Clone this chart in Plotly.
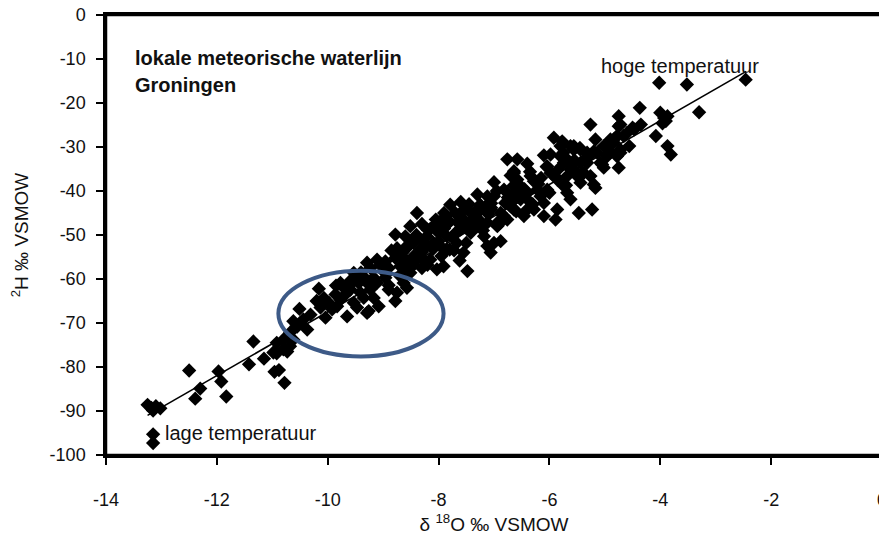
import plotly.graph_objects as go

# ---- data (δ18O, δ2H in ‰ VSMOW) ----
low_d18o = [-13.25, -13.18, -13.10, -13.02, -13.15, -13.15, -13.15, -12.50, -12.30, -12.39,
            -11.97, -11.92, -11.83, -11.42, -11.34, -11.15, -10.98, -10.92, -10.96, -10.88,
            -10.78, -10.80, -10.73, -10.68, -10.62, -10.55, -10.71]
low_d2h = [-88.6, -89.3, -88.9, -89.4, -89.9, -95.3, -97.3, -80.8, -84.9, -87.2,
           -81.0, -83.3, -86.7, -79.4, -74.2, -78.1, -76.7, -76.9, -81.1, -80.7,
           -83.6, -76.0, -76.5, -75.3, -73.8, -70.8, -73.0]

ell_d18o = [-10.16, -10.51, -10.20, -10.07, -9.98, -10.13, -9.92, -9.83, -9.74, -9.68,
            -9.59, -9.53, -9.47, -9.35, -9.26, -9.08, -9.23, -9.11, -8.90, -8.78,
            -8.96, -8.69, -8.57, -9.44, -9.86, -9.65, -10.04, -10.31, -10.44, -10.56,
            -10.37, -10.68, -10.80, -10.92, -9.53, -9.29, -9.11, -9.23, -8.78, -8.57,
            -8.51, -8.39, -8.21, -8.15, -8.03, -9.77, -9.41, -9.17, -8.75, -9.29,
            -10.62, -9.77, -9.65, -9.53, -9.41, -9.29, -9.17, -8.63, -8.51, -8.45]
ell_d2h = [-62.2, -66.8, -65.0, -64.3, -65.4, -66.5, -66.9, -66.2, -61.6, -63.5,
           -62.4, -65.4, -66.5, -64.3, -67.3, -66.2, -62.4, -60.9, -62.4, -65.0,
           -59.7, -59.4, -62.0, -60.9, -63.5, -68.5, -68.8, -68.1, -69.2, -70.7,
           -71.5, -72.2, -73.8, -74.5, -58.6, -56.3, -55.6, -57.5, -55.2, -52.5,
           -56.7, -54.8, -52.5, -55.6, -57.8, -64.7, -63.1, -64.3, -63.1, -67.7,
           -69.6, -60.9, -62.4, -60.5, -59.4, -60.9, -59.7, -60.9, -58.6, -56.3]

mid_d18o = [-8.78, -8.51, -8.39, -8.60, -8.57, -8.96, -7.79, -7.70, -7.48, -7.24,
            -7.12, -8.09, -7.97, -8.21, -8.09, -8.33, -8.45, -7.91, -7.85, -7.67,
            -7.55, -7.48, -7.61, -7.42, -7.30, -7.18, -7.12, -7.00, -6.88, -7.06,
            -6.94, -6.82, -6.70, -6.64, -6.58, -6.64, -6.52, -6.40, -6.76, -6.58,
            -7.55, -7.85, -7.97, -8.27, -8.69,
            -8.40, -8.30, -8.20, -8.00, -7.90, -7.75, -7.65, -7.50, -7.38, -7.35,
            -7.25, -7.15, -7.60, -7.88, -8.50, -8.65, -8.85, -8.90, -9.00, -8.62,
            -8.45, -8.30, -8.10, -7.95, -7.72, -7.62, -8.05, -7.80, -7.45, -7.05,
            -9.05, -9.40, -9.60, -9.85, -9.35]
mid_d2h = [-49.9, -48.0, -45.0, -50.3, -52.9, -56.0, -43.1, -45.0, -44.2, -44.2,
           -41.2, -48.0, -47.2, -50.3, -51.8, -53.3, -54.8, -57.1, -53.3, -51.8,
           -54.0, -58.2, -48.8, -49.5, -48.0, -50.3, -52.5, -51.8, -51.4, -54.0,
           -47.2, -45.7, -43.5, -40.4, -37.4, -35.9, -41.9, -44.2, -32.8, -32.8,
           -46.5, -50.3, -52.5, -55.6, -57.1,
           -50.0, -51.2, -48.8, -49.5, -48.5, -50.5, -47.2, -47.8, -46.2, -44.8,
           -46.8, -43.5, -46.2, -45.8, -51.5, -54.0, -53.5, -57.5, -58.2, -58.0,
           -56.8, -57.5, -53.2, -54.8, -53.5, -55.8, -46.5, -47.0, -43.0, -42.8,
           -56.8, -58.5, -60.5, -61.5, -59.5]

core_d18o = [-8.75, -8.45, -8.15, -7.85, -7.55, -7.25, -6.95, -6.65, -6.35, -6.05,
             -5.75, -5.45,
             -8.60, -8.30, -8.00, -7.70, -7.40, -7.10, -6.80, -6.50, -6.20, -5.90,
             -5.60, -5.30,
             -8.90, -8.20, -7.80, -7.50, -7.20, -6.90, -6.60, -6.30, -6.00, -5.70,
             -5.40,
             -8.30, -7.90, -7.60, -7.30, -7.00, -6.70, -6.40, -6.10, -5.80,
             -7.35, -7.05, -6.75, -6.45, -6.15, -5.85, -5.55]
core_d2h = [-53.0, -51.8, -48.6, -47.5, -44.3, -43.1, -40.0, -38.8, -35.6, -34.5,
            -31.3, -30.2,
            -55.6, -53.9, -51.4, -49.6, -47.0, -45.3, -42.7, -40.9, -38.4, -36.6,
            -34.0, -32.3,
            -61.4, -56.8, -53.3, -51.8, -49.0, -47.4, -44.6, -43.0, -40.4, -38.7,
            -36.0,
            -47.5, -45.0, -42.5, -40.8, -38.0, -36.5, -33.8, -31.9, -29.8,
            -45.6, -43.8, -41.5, -39.6, -37.0, -35.2, -33.0]

upp_d18o = [-5.92, -5.77, -5.62, -5.56, -5.26, -5.17, -4.75, -4.75, -5.98, -5.80,
            -5.74, -5.44, -5.32, -5.08, -4.96, -4.84, -4.72, -4.66, -4.75, -5.17,
            -5.23, -5.47, -5.86, -5.89, -6.10, -6.64, -6.34, -6.28, -6.04, -5.98,
            -5.62, -5.50, -5.44, -5.74, -5.68, -6.04, -6.16, -6.10, -6.52, -6.40,
            -6.58, -6.70, -6.82, -7.00, -7.06, -6.88, -6.76, -6.94, -7.12, -6.64,
            -6.46, -6.28, -6.40, -6.22, -5.86, -5.68, -5.32, -5.14, -4.96, -5.02,
            -5.26, -5.62]
upp_d2h = [-27.9, -28.7, -29.8, -30.6, -24.9, -28.3, -23.0, -25.3, -31.7, -32.1,
           -33.6, -30.6, -31.3, -33.6, -29.8, -28.3, -31.3, -27.5, -34.7, -39.3,
           -44.2, -45.0, -44.2, -46.5, -45.7, -35.5, -36.6, -37.8, -34.4, -35.9,
           -35.1, -36.6, -38.1, -38.9, -40.4, -39.7, -41.2, -42.7, -38.9, -40.4,
           -41.2, -42.7, -39.7, -41.2, -44.2, -45.0, -46.5, -48.0, -47.2, -44.2,
           -45.7, -44.2, -41.9, -39.7, -37.4, -32.8, -33.6, -31.3, -32.1, -34.7,
           -36.6, -41.9]

top_d18o = [-4.02, -3.52, -3.30, -4.37, -4.72, -4.00, -3.93, -3.87, -3.90, -4.35,
            -4.08, -4.56, -3.87, -3.81, -5.05, -2.46, -3.96, -4.47, -4.60, -4.90,
            -4.84, -4.78, -4.50, -4.72, -4.78, -4.90, -5.02, -5.20, -5.32, -5.44,
            -5.56, -5.68, -5.38, -5.20, -5.56]
top_d2h = [-15.4, -15.8, -22.1, -21.1, -24.9, -22.2, -23.4, -23.0, -24.1, -24.9,
           -27.5, -29.8, -29.8, -31.7, -34.0, -14.7, -24.6, -26.0, -26.8, -28.3,
           -29.0, -27.5, -25.6, -30.6, -32.1, -31.3, -29.8, -31.0, -32.2, -33.6,
           -35.1, -36.6, -35.9, -38.5, -29.8]

# local meteoric water line (end points as read)
lmwl_d18o = [-13.25, -2.45]
lmwl_d2h = [-91.0, -12.8]

x_ticks = [-14, -12, -10, -8, -6, -4, -2, 0]
y_ticks = [0, -10, -20, -30, -40, -50, -60, -70, -80, -90, -100]

d18o = low_d18o + ell_d18o + mid_d18o + core_d18o + upp_d18o + top_d18o
d2h = low_d2h + ell_d2h + mid_d2h + core_d2h + upp_d2h + top_d2h

FONT = "Liberation Sans, Arial, sans-serif"
TXT = "#111111"

fig = go.Figure()
fig.add_trace(go.Scatter(x=lmwl_d18o, y=lmwl_d2h, mode="lines",
                         line=dict(color="black", width=1.6), hoverinfo="skip"))
fig.add_trace(go.Scatter(x=d18o, y=d2h, mode="markers",
                         marker=dict(symbol="diamond", size=11, color="black",
                                     line=dict(width=0))))

fig.add_shape(type="circle", xref="x", yref="y",
              x0=-10.89, x1=-7.91, y0=-77.6, y1=-58.1,
              line=dict(color="#3d5a87", width=4))
# plot frame
fig.add_shape(type="rect", xref="paper", yref="paper", x0=0, x1=1, y0=0, y1=1,
              line=dict(color="black", width=2.5), layer="above")

fig.add_annotation(x=-13.51, y=-9.7, xref="x", yref="y", xanchor="left", yanchor="middle",
                   text="<b>lokale meteorische waterlijn</b>", showarrow=False,
                   font=dict(family=FONT, size=20, color=TXT))
fig.add_annotation(x=-13.51, y=-15.8, xref="x", yref="y", xanchor="left", yanchor="middle",
                   text="<b>Groningen</b>", showarrow=False,
                   font=dict(family=FONT, size=20, color=TXT))
fig.add_annotation(x=-5.11, y=-11.5, xref="x", yref="y", xanchor="left", yanchor="middle",
                   text="hoge temperatuur", showarrow=False,
                   font=dict(family=FONT, size=20, color=TXT))
fig.add_annotation(x=-12.97, y=-95.1, xref="x", yref="y", xanchor="left", yanchor="middle",
                   text="lage temperatuur", showarrow=False,
                   font=dict(family=FONT, size=20, color=TXT))

axis_common = dict(showgrid=False, zeroline=False, showline=True, linecolor="black",
                   linewidth=2.5, mirror=True, ticks="outside", ticklen=7, tickwidth=2,
                   tickcolor="black", automargin=False, ticklabeloverflow="allow",
                   tickfont=dict(family=FONT, size=18, color=TXT))

fig.update_xaxes(range=[-14, 0], tickvals=x_ticks, ticktext=[str(v) for v in x_ticks],
                 ticklabelstandoff=20,
                 title=dict(text="δ <sup>18</sup>O ‰ VSMOW", standoff=9,
                            font=dict(family=FONT, size=19, color=TXT)),
                 **axis_common)
fig.update_yaxes(range=[-100, 0], tickvals=y_ticks, ticktext=[str(v) for v in y_ticks],
                 ticklabelstandoff=7,
                 title=dict(text="<sup>2</sup>H ‰ VSMOW", standoff=17,
                            font=dict(family=FONT, size=19, color=TXT)),
                 **axis_common)

# the page adds an 8 px body margin, so the figure is 8 px smaller than the window
fig.update_layout(width=879, height=533, showlegend=False,
                  paper_bgcolor="white", plot_bgcolor="white",
                  margin=dict(l=98, r=5, t=7, b=86))

fig.write_html("out.html")
